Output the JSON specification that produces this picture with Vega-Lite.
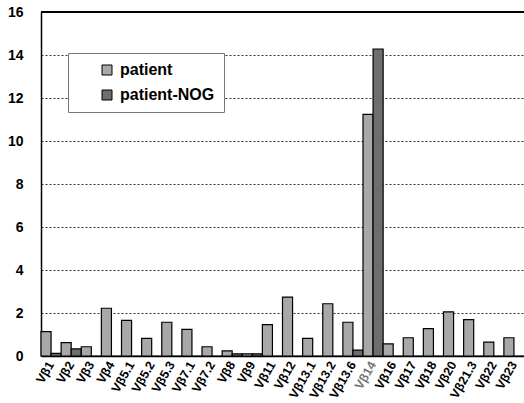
{
  "$schema": "https://vega.github.io/schema/vega-lite/v6.json",
  "width": 483,
  "height": 344,
  "autosize": {"type": "none"},
  "padding": {"left": 41, "top": 12, "right": 0, "bottom": 47},
  "background": "white",
  "config": {
    "view": {"stroke": null},
    "font": "Liberation Sans"
  },
  "data": {
    "values": [
      {"v": "Vβ1", "s": "patient", "val": 1.13},
      {"v": "Vβ1", "s": "patient-NOG", "val": 0.12},
      {"v": "Vβ2", "s": "patient", "val": 0.62},
      {"v": "Vβ2", "s": "patient-NOG", "val": 0.33},
      {"v": "Vβ3", "s": "patient", "val": 0.43},
      {"v": "Vβ3", "s": "patient-NOG", "val": 0.0},
      {"v": "Vβ4", "s": "patient", "val": 2.22},
      {"v": "Vβ4", "s": "patient-NOG", "val": 0.0},
      {"v": "Vβ5.1", "s": "patient", "val": 1.66},
      {"v": "Vβ5.1", "s": "patient-NOG", "val": 0.0},
      {"v": "Vβ5.2", "s": "patient", "val": 0.82},
      {"v": "Vβ5.2", "s": "patient-NOG", "val": 0.0},
      {"v": "Vβ5.3", "s": "patient", "val": 1.57},
      {"v": "Vβ5.3", "s": "patient-NOG", "val": 0.0},
      {"v": "Vβ7.1", "s": "patient", "val": 1.24},
      {"v": "Vβ7.1", "s": "patient-NOG", "val": 0.0},
      {"v": "Vβ7.2", "s": "patient", "val": 0.43},
      {"v": "Vβ7.2", "s": "patient-NOG", "val": 0.0},
      {"v": "Vβ8", "s": "patient", "val": 0.24},
      {"v": "Vβ8", "s": "patient-NOG", "val": 0.1},
      {"v": "Vβ9", "s": "patient", "val": 0.1},
      {"v": "Vβ9", "s": "patient-NOG", "val": 0.1},
      {"v": "Vβ11", "s": "patient", "val": 1.46},
      {"v": "Vβ11", "s": "patient-NOG", "val": 0.0},
      {"v": "Vβ12", "s": "patient", "val": 2.74},
      {"v": "Vβ12", "s": "patient-NOG", "val": 0.0},
      {"v": "Vβ13.1", "s": "patient", "val": 0.82},
      {"v": "Vβ13.1", "s": "patient-NOG", "val": 0.0},
      {"v": "Vβ13.2", "s": "patient", "val": 2.43},
      {"v": "Vβ13.2", "s": "patient-NOG", "val": 0.0},
      {"v": "Vβ13.6", "s": "patient", "val": 1.57},
      {"v": "Vβ13.6", "s": "patient-NOG", "val": 0.27},
      {"v": "Vβ14", "s": "patient", "val": 11.24},
      {"v": "Vβ14", "s": "patient-NOG", "val": 14.28},
      {"v": "Vβ16", "s": "patient", "val": 0.56},
      {"v": "Vβ16", "s": "patient-NOG", "val": 0.0},
      {"v": "Vβ17", "s": "patient", "val": 0.85},
      {"v": "Vβ17", "s": "patient-NOG", "val": 0.0},
      {"v": "Vβ18", "s": "patient", "val": 1.27},
      {"v": "Vβ18", "s": "patient-NOG", "val": 0.0},
      {"v": "Vβ20", "s": "patient", "val": 2.05},
      {"v": "Vβ20", "s": "patient-NOG", "val": 0.0},
      {"v": "Vβ21.3", "s": "patient", "val": 1.69},
      {"v": "Vβ21.3", "s": "patient-NOG", "val": 0.0},
      {"v": "Vβ22", "s": "patient", "val": 0.65},
      {"v": "Vβ22", "s": "patient-NOG", "val": 0.0},
      {"v": "Vβ23", "s": "patient", "val": 0.85},
      {"v": "Vβ23", "s": "patient-NOG", "val": 0.0}
    ]
  },
  "layer": [
    {
      "mark": {"type": "bar", "stroke": "black", "strokeWidth": 1.2},
      "encoding": {
        "x": {
          "field": "v",
          "type": "nominal",
          "sort": null,
          "scale": {"paddingInner": 0, "paddingOuter": 0},
          "axis": {
            "title": null,
            "labelAngle": -60,
            "labelAlign": "right",
            "labelBaseline": "middle",
            "labelFontSize": 12.5,
            "labelFontWeight": "bold",
            "labelColor": {"condition": {"test": "datum.value === 'Vβ14'", "value": "#777777"}, "value": "black"},
            "labelPadding": 6,
            "ticks": false,
            "domainColor": "black",
            "domainWidth": 1.5,
            "labelOverlap": false
          }
        },
        "xOffset": {
          "field": "s",
          "type": "nominal",
          "scale": {"paddingInner": 0, "paddingOuter": 0}
        },
        "y": {
          "field": "val",
          "type": "quantitative",
          "scale": {"domain": [0, 16], "nice": false},
          "axis": {
            "title": null,
            "values": [0, 2, 4, 6, 8, 10, 12, 14, 16],
            "ticks": false,
            "labelFontSize": 14,
            "labelFontWeight": "bold",
            "labelColor": "black",
            "labelPadding": 18,
            "domainColor": "black",
            "domainWidth": 1.5,
            "grid": true,
            "gridColor": "#333333",
            "gridDash": [2, 2],
            "gridWidth": 1
          }
        },
        "color": {
          "field": "s",
          "type": "nominal",
          "scale": {"domain": ["patient", "patient-NOG"], "range": ["#a8a8a8", "#6e6e6e"]},
          "legend": {
            "title": null,
            "orient": "none",
            "legendX": 27,
            "legendY": 41,
            "direction": "vertical",
            "fillColor": "white",
            "strokeColor": "#777777",
            "padding": 9,
            "symbolOffset": 22,
            "symbolType": "square",
            "symbolSize": 100,
            "symbolStrokeColor": "black",
            "symbolStrokeWidth": 1,
            "labelFontSize": 16,
            "labelFontWeight": "bold",
            "labelColor": "black",
            "labelOffset": 5,
            "rowPadding": 9
          }
        }
      }
    },
    {
      "mark": {"type": "rule", "color": "black", "strokeWidth": 1.5},
      "encoding": {"y": {"datum": 16}}
    }
  ]
}
